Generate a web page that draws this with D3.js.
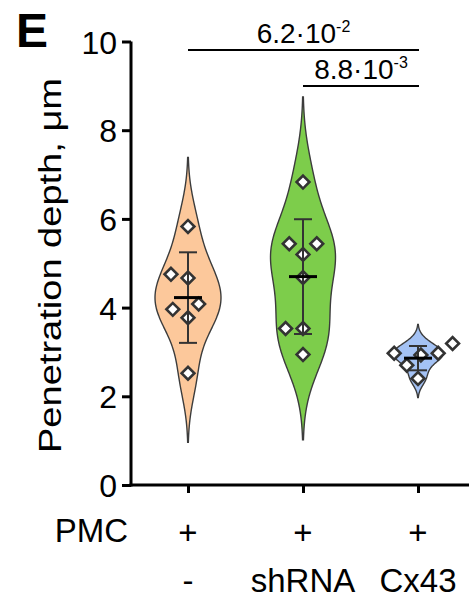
<!DOCTYPE html>
<html><head><meta charset="utf-8">
<script src="https://cdn.jsdelivr.net/npm/d3@7"></script>
<style>body{margin:0;background:#fff}</style>
</head><body>
<svg id="c" width="469" height="600"></svg>
<script>
// ---- data ----
const groups = ["ctrl", "shRNA", "Cx43"];
const pmcRow = ["+", "+", "+"];
const treatmentRow = ["-", "shRNA", "Cx43"];
const valuesCtrl = [5.83, 4.75, 4.67, 4.08, 3.96, 3.77, 2.52];
const valuesShRNA = [6.83, 5.44, 5.44, 5.20, 4.68, 3.53, 3.53, 2.94];
const valuesCx43 = [3.19, 2.97, 2.97, 2.93, 2.70, 2.40];
const yTicks = [0, 2, 4, 6, 8, 10];
const compFrom = [0, 1];
const compTo = [2, 2];
const compMantissa = ["6.2·10", "8.8·10"];
const compExponent = ["-2", "-3"];

// ---- layout / style ----
const font = "'Liberation Sans', Arial, Helvetica, sans-serif";
const fills = ["#FCC89B", "#7DCD4B", "#A4C2F4"];
const maxHalfWidth = [33, 32.5, 25];
const series = [valuesCtrl, valuesShRNA, valuesCx43];
const svg = d3.select("#c");
const y = d3.scaleLinear().domain([0, 10]).range([485, 41.5]);
const x = d3.scalePoint().domain(groups).range([188, 418]);

function kde(vals) {
  const n = vals.length, sd = d3.deviation(vals);
  const h = 0.9 * sd * Math.pow(n, -0.2);
  const lo = d3.min(vals) - 2.5 * h, hi = d3.max(vals) + 2.5 * h;
  return d3.range(0, 161).map(i => {
    const v = lo + (hi - lo) * i / 160;
    return [v, d3.sum(vals, xi => Math.exp(-0.5 * ((v - xi) / h) ** 2))];
  });
}

function swarm(vals, D) {
  const order = vals.map((v, i) => ({v, py: y(v), i})).sort((a, b) => a.v - b.v);
  const placed = [];
  order.forEach(p => {
    const cands = [0];
    placed.forEach(q => {
      const dy = Math.abs(p.py - q.py);
      if (dy < D) { const dx = Math.sqrt(D * D - dy * dy); cands.push(q.dx + dx, q.dx - dx); }
    });
    cands.sort((a, b) => Math.abs(a) - Math.abs(b) || a - b);
    p.dx = cands.find(c => placed.every(q => (c - q.dx) ** 2 + (p.py - q.py) ** 2 >= D * D - 0.01));
    placed.push(p);
  });
  return placed;
}

// violins
series.forEach((vals, gi) => {
  const cx = x(groups[gi]);
  const dens = kde(vals);
  const mx = d3.max(dens, d => d[1]);
  const w = d3.scaleLinear().domain([0, mx]).range([0, maxHalfWidth[gi]]);
  const area = d3.area()
    .x0(d => cx - w(d[1])).x1(d => cx + w(d[1])).y(d => y(d[0]))
    .curve(d3.curveBasis);
  svg.append("path").attr("d", area(dens))
    .attr("fill", fills[gi]).attr("stroke", "#3c3c3c").attr("stroke-width", 1.4);
});

// points
const diamond = d3.symbol(d3.symbolSquare, 82)();
series.forEach((vals, gi) => {
  const cx = x(groups[gi]);
  swarm(vals, 17.4).forEach(p => {
    svg.append("path").attr("d", diamond)
      .attr("transform", `translate(${cx + p.dx},${p.py}) rotate(45)`)
      .attr("fill", "#fff").attr("stroke", "#333").attr("stroke-width", 2.6);
  });
});

// mean and SD
series.forEach((vals, gi) => {
  const cx = x(groups[gi]);
  const m = d3.mean(vals), s = d3.deviation(vals);
  const g = svg.append("g").attr("stroke-linecap", "butt");
  g.append("line").attr("x1", cx).attr("x2", cx).attr("y1", y(m + s)).attr("y2", y(m - s))
    .attr("stroke", "#333").attr("stroke-width", 2);
  [m + s, m - s].forEach(v => g.append("line").attr("x1", cx - 9).attr("x2", cx + 9)
    .attr("y1", y(v)).attr("y2", y(v)).attr("stroke", "#333").attr("stroke-width", 2));
  g.append("line").attr("x1", cx - 14).attr("x2", cx + 14).attr("y1", y(m)).attr("y2", y(m))
    .attr("stroke", "#000").attr("stroke-width", 3);
});

// y axis
const yAxis = svg.append("g").attr("transform", "translate(131,0)")
  .call(d3.axisLeft(y).tickValues(yTicks).tickSize(9).tickSizeOuter(0).tickPadding(5).tickFormat(d3.format("d")));
yAxis.select(".domain").attr("stroke", "#000").attr("stroke-width", 3).attr("d", `M0,${y(10)}V${y(0) + 1.5}`);
yAxis.selectAll(".tick line").attr("stroke", "#000").attr("stroke-width", 3);
yAxis.selectAll(".tick text").attr("font-family", font).attr("font-size", 32).attr("fill", "#000").attr("dy", "0.36em");

// x axis
const xAxis = svg.append("g").attr("transform", "translate(0,485)")
  .call(d3.axisBottom(x).tickSize(8).tickSizeOuter(0).tickFormat(""));
xAxis.select(".domain").attr("stroke", "#000").attr("stroke-width", 3).attr("d", "M129.5,0H469");
xAxis.selectAll(".tick line").attr("stroke", "#000").attr("stroke-width", 3);

// category rows
svg.append("text").attr("x", 128).attr("y", 542).attr("text-anchor", "end")
  .attr("font-family", font).attr("font-size", 33).text("PMC");
groups.forEach((g, i) => {
  svg.append("text").attr("x", x(g)).attr("y", 544).attr("text-anchor", "middle")
    .attr("font-family", font).attr("font-size", 33).text(pmcRow[i]);
  svg.append("text").attr("x", x(g)).attr("y", 592).attr("text-anchor", "middle")
    .attr("font-family", font).attr("font-size", 33).text(treatmentRow[i]);
});

// y label
svg.append("text").attr("transform", "translate(61,265.5) rotate(-90)")
  .attr("text-anchor", "middle").attr("font-family", font).attr("font-size", 31)
  .attr("textLength", 375).attr("lengthAdjust", "spacingAndGlyphs")
  .text("Penetration depth, μm");

// panel letter
svg.append("text").attr("x", 16).attr("y", 47).attr("font-family", font)
  .attr("font-weight", "bold").attr("font-size", 48).text("E");

// significance brackets
const bracketY = [50, 86];
compFrom.forEach((a, k) => {
  const x1 = x(groups[a]), x2 = x(groups[compTo[k]]) + 1;
  svg.append("line").attr("x1", x1).attr("x2", x2).attr("y1", bracketY[k]).attr("y2", bracketY[k])
    .attr("stroke", "#000").attr("stroke-width", 2.2);
  const t = svg.append("text").attr("x", (x1 + x2) / 2).attr("y", bracketY[k] - 7)
    .attr("text-anchor", "middle").attr("font-family", font).attr("font-size", 28);
  t.append("tspan").text(compMantissa[k]);
  t.append("tspan").attr("font-size", 16).attr("dy", -11).text(compExponent[k]);
});
</script>
</body></html>
